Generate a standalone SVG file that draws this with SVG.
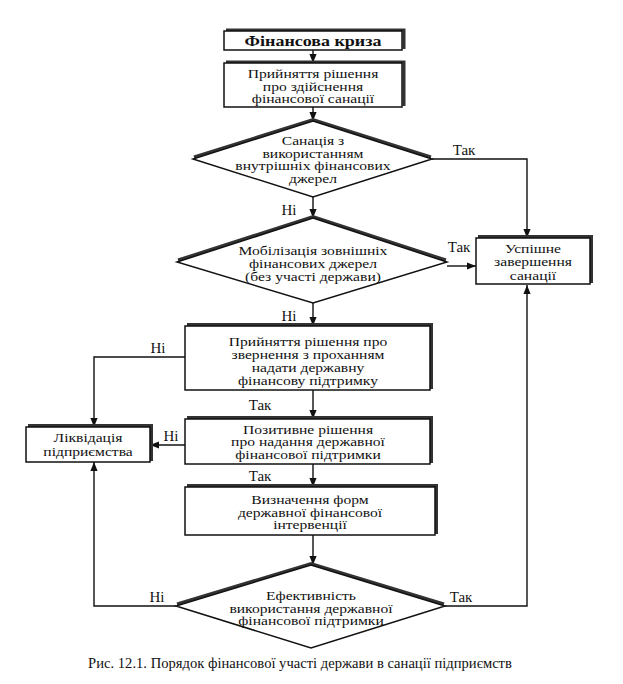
<svg xmlns="http://www.w3.org/2000/svg" width="623" height="684" viewBox="0 0 623 684">
<style>
.box{fill:#fff;stroke:#111;stroke-width:1.5}
.sh{fill:none;stroke:#333;stroke-width:3}
.t{font-family:"Liberation Serif","Times New Roman",serif;font-size:12px;fill:#111;text-anchor:middle}
.b{font-weight:bold;font-size:15px}
.lbl{font-family:"Liberation Serif","Times New Roman",serif;font-size:15px;fill:#111;text-anchor:middle}
.c{fill:none;stroke:#111;stroke-width:1.4}
.cap{font-family:"Liberation Serif","Times New Roman",serif;font-size:14.6px;fill:#111;text-anchor:middle}
</style>
<defs>
<marker id="ah" viewBox="0 0 10 10" refX="10" refY="5" markerWidth="9" markerHeight="9" markerUnits="userSpaceOnUse" orient="auto">
<path d="M0,1 L10,5 L0,9 Z" fill="#111"/>
</marker>
</defs>
<rect width="623" height="684" fill="#fff"/>

<g id="connectors">
<line class="c" x1="313" y1="50" x2="313" y2="63" marker-end="url(#ah)"/>
<line class="c" x1="313" y1="107" x2="313" y2="121" marker-end="url(#ah)"/>
<polyline class="c" points="432,159 527,159 527,238" marker-end="url(#ah)"/>
<line class="c" x1="313" y1="197" x2="313" y2="218" marker-end="url(#ah)"/>
<line class="c" x1="447" y1="266" x2="476" y2="266" marker-end="url(#ah)"/>
<line class="c" x1="313" y1="303" x2="313" y2="326" marker-end="url(#ah)"/>
<polyline class="c" points="185,357 94,357 94,427" marker-end="url(#ah)"/>
<line class="c" x1="313" y1="390" x2="313" y2="419" marker-end="url(#ah)"/>
<line class="c" x1="185" y1="445" x2="150" y2="445" marker-end="url(#ah)"/>
<line class="c" x1="313" y1="464" x2="313" y2="487" marker-end="url(#ah)"/>
<line class="c" x1="313" y1="535" x2="313" y2="565" marker-end="url(#ah)"/>
<polyline class="c" points="176,606 94,606 94,462" marker-end="url(#ah)"/>
<polyline class="c" points="445,606 527,606 527,285" marker-end="url(#ah)"/>
<text class="lbl" x="464" y="155">Так</text>
<text class="lbl" x="289" y="215">Ні</text>
<text class="lbl" x="459" y="252">Так</text>
<text class="lbl" x="289" y="321">Ні</text>
<text class="lbl" x="158" y="353">Ні</text>
<text class="lbl" x="260" y="410">Так</text>
<text class="lbl" x="171" y="441">Ні</text>
<text class="lbl" x="260" y="481">Так</text>
<text class="lbl" x="157" y="602">Ні</text>
<text class="lbl" x="461" y="602">Так</text>
</g>

<g id="n1">
<polyline class="sh" points="226,30 404,30 404,49"/>
<rect class="box" x="224" y="31" width="178" height="19"/>
<g transform="translate(313 0) scale(1.2 1)"><text class="t b" x="0" y="46">Фінансова криза</text></g>
</g>

<g id="n2">
<polyline class="sh" points="226,62 404,62 404,106"/>
<rect class="box" x="224" y="63" width="178" height="44"/>
<g transform="translate(313 0) scale(1.3 1)">
<text class="t" x="0" y="78.5">Прийняття рішення</text>
<text class="t" x="0" y="91">про здійснення</text>
<text class="t" x="0" y="103.5">фінансової санації</text>
</g>
</g>

<g id="d1">
<polyline class="sh" points="194,157 313,119.5 431,157"/>
<polygon class="box" points="313,121 432,159 313,197 193,159"/>
<g transform="translate(313 0) scale(1.3 1)">
<text class="t" x="0" y="145.5">Санація з</text>
<text class="t" x="0" y="158">використанням</text>
<text class="t" x="0" y="170.5">внутрішніх фінансових</text>
<text class="t" x="0" y="183">джерел</text>
</g>
</g>

<g id="d2">
<polyline class="sh" points="178,260 313,216.5 446,260"/>
<polygon class="box" points="313,218 447,262 313,303 177,262"/>
<g transform="translate(313 0) scale(1.3 1)">
<text class="t" x="0" y="255">Мобілізація зовнішніх</text>
<text class="t" x="0" y="268">фінансових джерел</text>
<text class="t" x="0" y="281">(без участі держави)</text>
</g>
</g>

<g id="success">
<polyline class="sh" points="478,236.5 591.5,236.5 591.5,283"/>
<rect class="box" x="476" y="238" width="114" height="46"/>
<g transform="translate(533 0) scale(1.3 1)">
<text class="t" x="0" y="253">Успішне</text>
<text class="t" x="0" y="266.5">завершення</text>
<text class="t" x="0" y="280">санації</text>
</g>
</g>

<g id="n3">
<polyline class="sh" points="187,324.5 431.5,324.5 431.5,389"/>
<rect class="box" x="185" y="326" width="245" height="64"/>
<g transform="translate(308 0) scale(1.3 1)">
<text class="t" x="0" y="346">Прийняття рішення про</text>
<text class="t" x="0" y="359">звернення з проханням</text>
<text class="t" x="0" y="372">надати державну</text>
<text class="t" x="0" y="385">фінансову підтримку</text>
</g>
</g>

<g id="n4">
<polyline class="sh" points="187,417.5 431.5,417.5 431.5,463"/>
<rect class="box" x="185" y="419" width="245" height="45"/>
<g transform="translate(308 0) scale(1.3 1)">
<text class="t" x="0" y="434">Позитивне рішення</text>
<text class="t" x="0" y="446.5">про надання державної</text>
<text class="t" x="0" y="459">фінансової підтримки</text>
</g>
</g>

<g id="liq">
<polyline class="sh" points="28,425.5 151.5,425.5 151.5,461"/>
<rect class="box" x="26" y="427" width="124" height="35"/>
<g transform="translate(88 0) scale(1.3 1)">
<text class="t" x="0" y="442">Ліквідація</text>
<text class="t" x="0" y="456">підприємства</text>
</g>
</g>

<g id="n5">
<polyline class="sh" points="187,485.5 436.5,485.5 436.5,534"/>
<rect class="box" x="185" y="487" width="250" height="48"/>
<g transform="translate(310 0) scale(1.3 1)">
<text class="t" x="0" y="504.5">Визначення форм</text>
<text class="t" x="0" y="517">державної фінансової</text>
<text class="t" x="0" y="529.5">інтервенції</text>
</g>
</g>

<g id="d3">
<polyline class="sh" points="177,604 311,563.5 444,604"/>
<polygon class="box" points="311,565 445,606 311,648 176,606"/>
<g transform="translate(311 0) scale(1.3 1)">
<text class="t" x="0" y="600.5">Ефективність</text>
<text class="t" x="0" y="613">використання державної</text>
<text class="t" x="0" y="625.5">фінансової підтримки</text>
</g>
</g>

<text class="cap" x="300" y="668">Рис. 12.1. Порядок фінансової участі держави в санації підприємств</text>
</svg>
